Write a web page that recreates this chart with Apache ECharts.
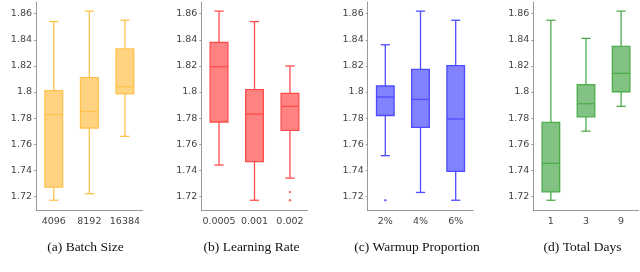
<!DOCTYPE html>
<html><head><meta charset="utf-8">
<script src="https://cdn.jsdelivr.net/npm/echarts@6/dist/echarts.min.js"></script>
<style>html,body{margin:0;padding:0;background:#fff}#c{width:640px;height:272px}</style>
</head><body><div id="c"></div>
<script>
// ---- data ----
const yTicks = [1.72, 1.74, 1.76, 1.78, 1.8, 1.82, 1.84, 1.86];
// boxes: [low whisker, Q1, median, Q3, high whisker]
const batchCats = ['4096', '8192', '16384'];
const batchBoxes = [[1.717, 1.727, 1.7827, 1.801, 1.854], [1.722, 1.7724, 1.785, 1.811, 1.862], [1.766, 1.7985, 1.804, 1.833, 1.855]];
const batchOutliers = [];
const lrCats = ['0.0005', '0.001', '0.002'];
const lrBoxes = [[1.744, 1.777, 1.8194, 1.838, 1.862], [1.717, 1.7466, 1.7831, 1.8018, 1.854], [1.734, 1.7706, 1.789, 1.799, 1.82]];
const lrOutliers = [[2, 1.7234], [2, 1.717]];
const warmCats = ['2%', '4%', '6%'];
const warmBoxes = [[1.7512, 1.782, 1.7962, 1.8046, 1.8362], [1.723, 1.7729, 1.7943, 1.8173, 1.862], [1.717, 1.7392, 1.7793, 1.8202, 1.855]];
const warmOutliers = [[0, 1.717]];
const daysCats = ['1', '3', '9'];
const daysBoxes = [[1.717, 1.7234, 1.7453, 1.7767, 1.855], [1.770, 1.781, 1.791, 1.8056, 1.8411], [1.789, 1.8002, 1.8143, 1.835, 1.862]];
const daysOutliers = [];
const captions = ['(a) Batch Size', '(b) Learning Rate', '(c) Warmup Proportion', '(d) Total Days'];

// ---- styling / layout ----
const panels = [
  {cats: batchCats, boxes: batchBoxes, out: batchOutliers, stroke: '#FFC24D', fill: '#FFD382', left: 36, width: 106.7, cap: 85.5},
  {cats: lrCats, boxes: lrBoxes, out: lrOutliers, stroke: '#FF4D4D', fill: '#FF8282', left: 201.3, width: 106.4, cap: 251.5},
  {cats: warmCats, boxes: warmBoxes, out: warmOutliers, stroke: '#4D4DFF', fill: '#8282FF', left: 367.7, width: 105.6, cap: 417},
  {cats: daysCats, boxes: daysBoxes, out: daysOutliers, stroke: '#4DAD4D', fill: '#82C282', left: 533.3, width: 105.4, cap: 582.5}
];

function renderBox(stroke, fill) {
  return function (params, api) {
    const i = api.value(0);
    const low = api.coord([i, api.value(1)]);
    const q1 = api.coord([i, api.value(2)]);
    const med = api.coord([i, api.value(3)]);
    const q3 = api.coord([i, api.value(4)]);
    const high = api.coord([i, api.value(5)]);
    const band = api.size([1, 0])[0];
    const bw = band * 0.5, cw = band * 0.26;
    const x = low[0];
    const ls = {stroke: stroke, lineWidth: 1.3, fill: null};
    return {type: 'group', children: [
      {type: 'line', shape: {x1: x, y1: high[1], x2: x, y2: q3[1]}, style: ls},
      {type: 'line', shape: {x1: x, y1: q1[1], x2: x, y2: low[1]}, style: ls},
      {type: 'line', shape: {x1: x - cw / 2, y1: high[1], x2: x + cw / 2, y2: high[1]}, style: ls},
      {type: 'line', shape: {x1: x - cw / 2, y1: low[1], x2: x + cw / 2, y2: low[1]}, style: ls},
      {type: 'rect', shape: {x: x - bw / 2, y: q3[1], width: bw, height: q1[1] - q3[1]}, style: {fill: fill, stroke: stroke, lineWidth: 1.3}},
      {type: 'line', shape: {x1: x - bw / 2, y1: med[1], x2: x + bw / 2, y2: med[1]}, style: ls}
    ]};
  };
}

const grid = [], xAxis = [], yAxis = [], series = [], graphic = [];
panels.forEach((p, k) => {
  grid.push({left: p.left, width: p.width, top: 2, bottom: 61.3});
  xAxis.push({
    type: 'category', gridIndex: k, data: p.cats, boundaryGap: true,
    axisLine: {lineStyle: {color: '#9a9a9a', width: 1}},
    axisTick: {alignWithLabel: true, interval: 0, length: 3, lineStyle: {color: '#9a9a9a'}},
    axisLabel: {interval: 0, fontFamily: 'DejaVu Sans', fontSize: 9.5, color: '#444', margin: 6},
    splitLine: {show: false}
  });
  yAxis.push({
    type: 'value', gridIndex: k, min: 1.709, max: 1.869,
    axisLine: {show: true, lineStyle: {color: '#9a9a9a', width: 1}},
    axisTick: {show: true, length: 2, customValues: yTicks, lineStyle: {color: '#9a9a9a'}},
    axisLabel: {customValues: yTicks, fontFamily: 'DejaVu Sans', fontSize: 9.5, color: '#444', margin: 4,
      formatter: v => String(+(+v).toFixed(2))},
    splitLine: {show: false}
  });
  series.push({
    type: 'custom', xAxisIndex: k, yAxisIndex: k,
    renderItem: renderBox(p.stroke, p.fill),
    encode: {x: 0, y: [1, 2, 3, 4, 5]},
    data: p.boxes.map((b, i) => [i].concat(b)),
    silent: true
  });
  if (p.out.length) {
    series.push({
      type: 'scatter', xAxisIndex: k, yAxisIndex: k, data: p.out,
      symbolSize: 2.5, itemStyle: {color: p.stroke}, silent: true
    });
  }
  graphic.push({type: 'text', x: p.cap, y: 247.5, style: {text: captions[k], font: '13.5px "Liberation Serif"', fill: '#111', textAlign: 'center', textVerticalAlign: 'middle'}});
});

const chart = echarts.init(document.getElementById('c'), null, {renderer: 'canvas'});
chart.setOption({animation: false, grid, xAxis, yAxis, series, graphic});
</script>
</body></html>
